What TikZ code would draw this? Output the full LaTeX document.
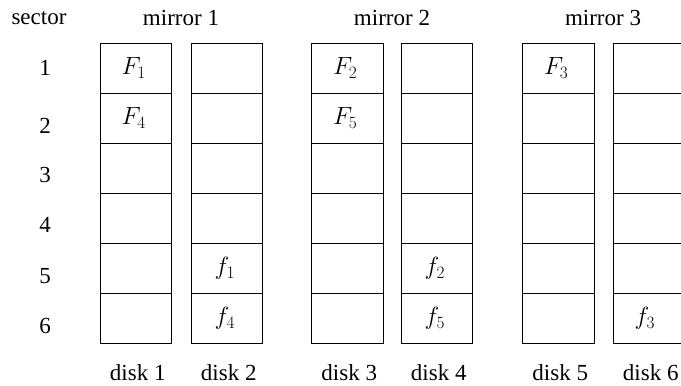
\documentclass[tikz,border=0pt]{standalone}
\usepackage{fontspec}
\setmainfont{Liberation Serif}
\begin{document}
\begin{tikzpicture}[x=1pt,y=-1pt,
  cell/.style={draw,line width=0.9pt,minimum width=71.5pt,minimum height=50pt,inner sep=0pt},
  lbl/.style={inner sep=0pt,font=\fontsize{23}{26}\selectfont},
  blk/.style={inner sep=0pt,font=\fontsize{26}{30}\selectfont}]
\useasboundingbox (0,0) rectangle (681,386);
% column centres of the six disks
\def\xa{135.75}\def\xb{226.75}\def\xc{347.25}\def\xd{436.75}\def\xe{558.25}\def\xf{648.75}
% sector cells, one column per disk (the last column runs past the right edge)
\begin{scope}
\clip (0,0) rectangle (681,386);
\foreach \k/\cx in {1/\xa,2/\xb,3/\xc,4/\xd,5/\xe,6/\xf}{
  \foreach \r in {1,...,6}{
    \node[cell] (d\k s\r) at (\cx,{43.3+50*(\r-0.5)}) {};
  }
}
\end{scope}
% stored blocks
\node[blk] at ([xshift=-2pt]d1s1) {$F_1$};
\node[blk] at ([xshift=-2pt]d1s2) {$F_4$};
\node[blk] at ([xshift=-2pt]d2s5) {$f_1$};
\node[blk] at ([xshift=-2pt]d2s6) {$f_4$};
\node[blk] at ([xshift=-2pt]d3s1) {$F_2$};
\node[blk] at ([xshift=-2pt]d3s2) {$F_5$};
\node[blk] at ([xshift=-2pt]d4s5) {$f_2$};
\node[blk] at ([xshift=-2pt]d4s6) {$f_5$};
\node[blk] at ([xshift=-2pt]d5s1) {$F_3$};
\node[blk] at ([xshift=-4pt]d6s6) {$f_3$};
% headings
\node[lbl] (hsec) at (39,18) {sector};
\node[lbl] (hm1) at (181,18) {mirror 1};
\node[lbl] (hm2) at (392,18) {mirror 2};
\node[lbl] (hm3) at (603,18) {mirror 3};
% sector numbers
\foreach \r/\y in {1/68,2/126,3/175,4/225,5/276,6/326}{
  \node[lbl] (n\r) at (45,\y) {\r};
}
% disk names
\foreach \k/\cx in {1/\xa,2/\xb,3/\xc,4/\xd,5/\xe,6/\xf}{
  \node[lbl] (dn\k) at ({\cx+2},373) {disk \k};
}
\end{tikzpicture}
\end{document}
